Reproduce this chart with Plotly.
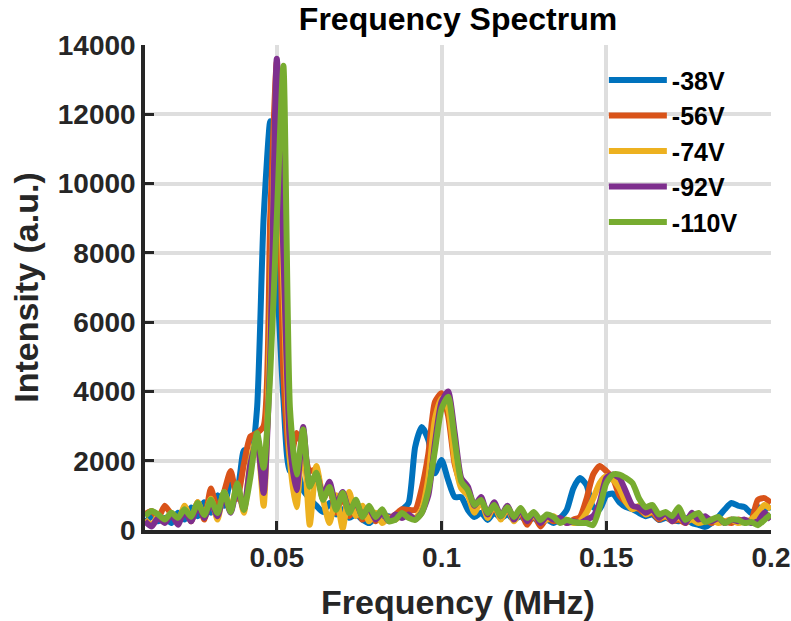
import numpy as np
import plotly.graph_objects as go

# Frequency grid (MHz)
freq = np.round(np.arange(0.010, 0.2001, 0.002), 4).tolist()

series_names = ["-38V", "-56V", "-74V", "-92V", "-110V"]
series_colors = ["#0072BD", "#D95319", "#EDB120", "#7E2F8E", "#77AC30"]

v38 = [200, 400, 250, 350, 200, 500, 300, 650, 400, 800,
       500, 1000, 700, 1400, 1200, 2300, 1900, 3500, 9000, 11800,
       7500, 3800, 1700, 1750, 1150, 900, 700, 520, 780, 450,
       600, 350, 450, 300, 200, 350, 250, 400, 300, 580,
       780, 2400, 2970, 2600, 1640, 2020, 1440, 950, 950, 580,
       375, 500, 290, 500, 350, 450, 300, 400, 250, 350,
       200, 300, 200, 350, 580, 1200, 1500, 1300, 660, 600,
       1000, 1050, 800, 660, 600, 490, 400, 450, 290, 350,
       300, 250, 350, 200, 150, 90, 200, 375, 600, 780,
       700, 660, 490, 660, 600, 660]

v56 = [450, 550, 350, 700, 450, 300, 650, 250, 800, 300,
       1200, 600, 1100, 1700, 900, 1900, 2700, 2800, 3000, 9000,
       13500, 4500, 1900, 2800, 2400, 1700, 1750, 900, 1200, 500,
       1000, 400, 700, 300, 600, 250, 500, 350, 450, 600,
       580, 580, 1200, 2200, 3700, 3950, 3300, 1900, 1300, 1100,
       600, 800, 400, 650, 350, 600, 300, 500, 150, 450,
       100, 350, 250, 300, 200, 300, 375, 900, 1600, 1850,
       1700, 1500, 1000, 800, 660, 600, 450, 500, 300, 400,
       250, 300, 200, 350, 250, 300, 200, 300, 250, 200,
       300, 250, 290, 870, 920, 780]

v74 = [300, 150, 400, 250, 500, 200, 700, 300, 800, 400,
       900, 300, 1100, 600, 1300, 500, 2000, 2700, 700, 6000,
       13300, 7000, 2000, 660, 2800, 150, 1850, 900, 200, 1000,
       50, 1100, 400, 700, 250, 500, 200, 350, 300, 450,
       400, 350, 600, 1500, 3200, 3800, 3500, 2000, 1200, 1000,
       500, 850, 350, 750, 300, 650, 250, 550, 350, 400,
       250, 300, 400, 250, 300, 200, 250, 500, 900, 1350,
       1550, 1450, 1200, 800, 600, 700, 450, 550, 350, 400,
       300, 350, 250, 300, 200, 250, 300, 200, 250, 300,
       200, 250, 300, 490, 720, 600]

v92 = [250, 100, 350, 200, 450, 150, 550, 250, 700, 350,
       800, 400, 1000, 500, 1200, 600, 1900, 2600, 1070, 5000,
       13600, 8000, 2500, 1150, 2970, 1300, 1600, 1000, 1390, 700,
       1100, 550, 800, 400, 650, 300, 500, 250, 450, 350,
       450, 300, 500, 1000, 2500, 3700, 4000, 2800, 1500, 1250,
       700, 950, 450, 800, 400, 700, 300, 600, 250, 500,
       200, 400, 300, 350, 200, 250, 200, 300, 400, 800,
       1500, 1600, 1500, 1100, 700, 650, 500, 600, 350, 500,
       250, 450, 200, 500, 300, 400, 250, 350, 200, 300,
       250, 300, 200, 250, 500, 300]

v110 = [400, 550, 450, 300, 500, 350, 600, 380, 780, 430,
        870, 490, 1100, 520, 1350, 580, 1530, 2800, 1800, 4500,
        9000, 13400, 3500, 1600, 2900, 1250, 1650, 870, 1240, 580,
        1070, 490, 870, 375, 700, 375, 600, 250, 300, 490,
        350, 290, 490, 1150, 2300, 3500, 3850, 2600, 1400, 1150,
        720, 870, 490, 720, 400, 660, 375, 635, 350, 520,
        290, 450, 375, 200, 290, 230, 200, 200, 140, 660,
        1350, 1600, 1600, 1500, 1350, 900, 660, 720, 450, 520,
        400, 660, 290, 400, 490, 230, 300, 375, 200, 300,
        290, 200, 230, 140, 290, 450]

all_values = [v38, v56, v74, v92, v110]

x_tickvals = [0.05, 0.1, 0.15, 0.2]
x_ticktext = ["0.05", "0.1", "0.15", "0.2"]
y_tickvals = [0, 2000, 4000, 6000, 8000, 10000, 12000, 14000]
y_ticktext = [str(v) for v in y_tickvals]

FONT = "Liberation Sans, Arial, sans-serif"
AX = "#262626"

fig = go.Figure()
for name, color, vals in zip(series_names, series_colors, all_values):
    fig.add_trace(go.Scatter(x=freq, y=vals, mode="lines", name=name,
                             line=dict(color=color, width=6, shape="spline", smoothing=0.6)))

fig.update_layout(
    width=791, height=621,
    margin=dict(l=145, r=20, t=45, b=91, autoexpand=False),
    paper_bgcolor="white", plot_bgcolor="white",
    font=dict(family=FONT, color=AX),
    title=dict(text="Frequency Spectrum", x=(145 + 771) / 2 / 791, xanchor="center",
               y=1 - 19 / 621, yanchor="middle", yref="container",
               font=dict(family=FONT, size=32, color="black", weight="bold")),
    legend=dict(x=0.733, y=0.975, xanchor="left", yanchor="top",
                bgcolor="rgba(0,0,0,0)", borderwidth=0, itemwidth=58,
                font=dict(family=FONT, size=25, color="black", weight="bold"),
                tracegroupgap=0),
    showlegend=True,
)

fig.update_xaxes(
    range=[0.01, 0.2], tickmode="array", tickvals=x_tickvals, ticktext=x_ticktext,
    automargin=False,
    showgrid=True, gridcolor="#dedede", gridwidth=3.5,
    showline=True, linecolor=AX, linewidth=3.5, mirror=False,
    ticks="inside", ticklen=9, tickwidth=3, tickcolor=AX,
    tickfont=dict(family=FONT, size=28, color=AX, weight="bold"),
    zeroline=False,
    title=dict(text="Frequency (MHz)", standoff=20,
               font=dict(family=FONT, size=34, color=AX, weight="bold")),
)
fig.update_yaxes(
    range=[0, 14000], tickmode="array", tickvals=y_tickvals, ticktext=y_ticktext,
    automargin=False,
    showgrid=True, gridcolor="#dedede", gridwidth=3.5,
    showline=True, linecolor=AX, linewidth=3.5, mirror=False,
    ticks="inside", ticklen=9, tickwidth=3, tickcolor=AX,
    tickfont=dict(family=FONT, size=28, color=AX, weight="bold"),
    zeroline=False,
    title=dict(text="Intensity (a.u.)", standoff=10,
               font=dict(family=FONT, size=34, color=AX, weight="bold")),
)

fig.write_html("out.html")
